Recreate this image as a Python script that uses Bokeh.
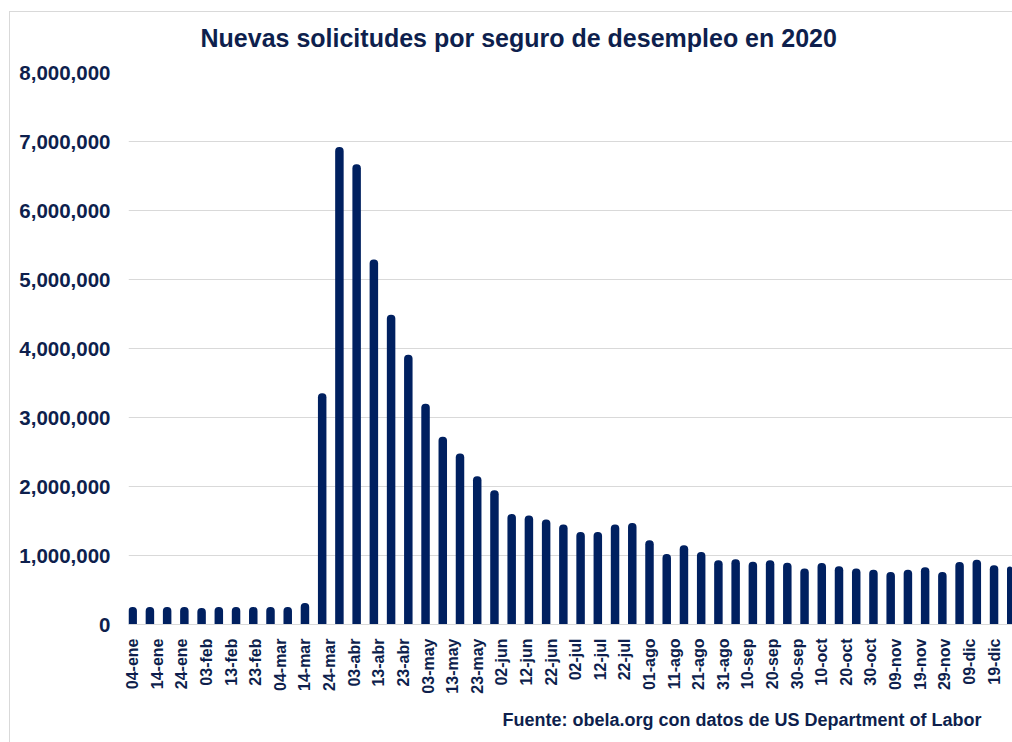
import math
import pandas as pd
from bokeh.plotting import figure
from bokeh.models import (FixedTicker, NumeralTickFormatter, ColumnDataSource, Range1d, Title,
                          InlineStyleSheet)
from bokeh.embed import file_html
from bokeh.resources import INLINE

# ---- data ----
week_ending = pd.date_range("2020-01-04", periods=52, freq="7D")
claims = [
    255000, 255000, 255000, 255000, 240000, 255000, 255000, 255000, 255000, 255000, 310000,
    3350000, 6920000, 6670000, 5290000, 4490000, 3910000, 3200000, 2720000, 2480000, 2150000,
    1945000, 1600000, 1580000, 1520000, 1450000, 1340000, 1340000, 1450000, 1470000, 1220000,
    1020000, 1150000, 1050000, 930000, 945000, 910000, 930000, 895000, 810000, 890000,
    845000, 810000, 795000, 760000, 795000, 830000, 760000, 905000, 940000, 860000, 840000,
]
tick_dates = pd.date_range("2020-01-04", periods=36, freq="10D")
tick_labels = [
    "04-ene", "14-ene", "24-ene", "03-feb", "13-feb", "23-feb", "04-mar", "14-mar",
    "24-mar", "03-abr", "13-abr", "23-abr", "03-may", "13-may", "23-may", "02-jun",
    "12-jun", "22-jun", "02-jul", "12-jul", "22-jul", "01-ago", "11-ago", "21-ago",
    "31-ago", "10-sep", "20-sep", "30-sep", "10-oct", "20-oct", "30-oct", "09-nov",
    "19-nov", "29-nov", "09-dic", "19-dic",
]
y_ticks = [0, 1000000, 2000000, 3000000, 4000000, 5000000, 6000000, 7000000, 8000000]
title_text = "Nuevas solicitudes por seguro de desempleo en 2020"
source_text = "Fuente: obela.org con datos de US Department of Labor"

origin = pd.Timestamp("2020-01-01")
xs = [(d - origin).days for d in week_ending]
tick_x = [(d - origin).days for d in tick_dates]

NAVY = "#002060"
TEXT = "#0e1f4d"
FONT = "Liberation Sans"
GRID = "#d9d9d9"

src = ColumnDataSource(dict(x=xs, top=claims))

W, H = 1012, 742
BL, BT, BB = 128, 72, 118
p = figure(width=W, height=H, output_backend="svg", toolbar_location=None,
           x_range=Range1d(xs[0] - 1.7, xs[-1] + 0.5), y_range=Range1d(0, 8000000),
           min_border_left=BL, min_border_right=0, min_border_top=BT, min_border_bottom=BB)
p.outline_line_color = None
p.background_fill_color = "white"
p.border_fill_color = "white"

# light chart-area border (left and top edges)
p.stylesheets = [InlineStyleSheet(css=(
    ":host::after{content:'';position:absolute;left:9px;top:11px;right:0;bottom:0;"
    "border-left:1px solid #d9d9d9;border-top:1px solid #d9d9d9;pointer-events:none;}"))]

p.vbar(x="x", top="top", width=3.45, source=src, fill_color=NAVY, line_color=None,
       border_radius=(4, 4, 0, 0))

# y axis
p.yaxis.ticker = FixedTicker(ticks=y_ticks)
p.yaxis.formatter = NumeralTickFormatter(format="0,0")
p.yaxis.axis_line_color = None
p.yaxis.major_tick_line_color = None
p.yaxis.minor_tick_line_color = None
p.yaxis.major_label_text_font = FONT
p.yaxis.major_label_text_font_style = "bold"
p.yaxis.major_label_text_font_size = "20.5px"
p.yaxis.major_label_text_color = TEXT
p.yaxis.major_label_standoff = 12

# x axis
p.xaxis.ticker = FixedTicker(ticks=tick_x)
p.xaxis.major_label_overrides = {t: lab for t, lab in zip(tick_x, tick_labels)}
p.xaxis.axis_line_color = GRID
p.xaxis.axis_line_width = 1
p.xaxis.major_tick_line_color = None
p.xaxis.minor_tick_line_color = None
p.xaxis.major_label_orientation = math.pi / 2
p.xaxis.major_label_text_font = FONT
p.xaxis.major_label_text_font_style = "bold"
p.xaxis.major_label_text_font_size = "16px"
p.xaxis.major_label_text_color = TEXT
p.xaxis.major_label_standoff = 8

p.xgrid.grid_line_color = None
p.ygrid.grid_line_color = GRID
p.ygrid.grid_line_width = 1

# title above the frame, and source note below the axis
p.title = Title(text=title_text, align="left", offset=200 - BL, standoff=42,
                text_font=FONT, text_font_style="bold", text_font_size="25px",
                text_color=TEXT)
p.add_layout(Title(text=source_text, align="left", offset=502 - BL, standoff=22,
                   text_font=FONT, text_font_style="bold", text_font_size="18px",
                   text_color=TEXT), "below")

open("out.html", "w").write(file_html(p, INLINE))
